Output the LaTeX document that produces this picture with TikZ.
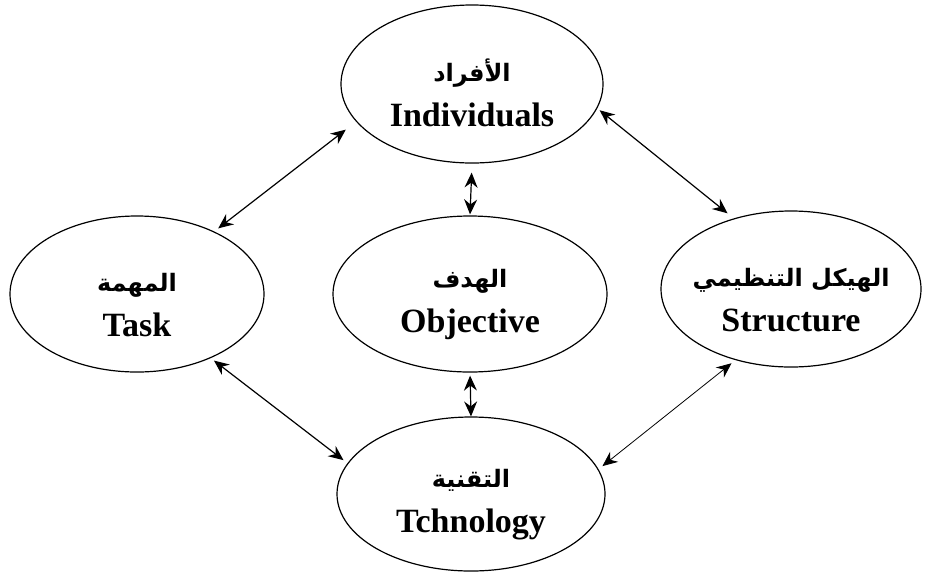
\documentclass[tikz,border=0pt]{standalone}
\usepackage{fontspec}
\setmainfont{Liberation Serif}
\newfontfamily\arabicfont[Script=Arabic]{DejaVu Sans}
\TeXXeTstate=1
\usetikzlibrary{shapes.geometric,arrows.meta}
\newcommand{\arlabel}[1]{\rule{0pt}{40pt}\makebox[0pt]{\arabicfont\bfseries\fontsize{24}{30}\selectfont\beginR #1\endR}}

\begin{document}
\begin{tikzpicture}[x=1pt,y=-1pt,
    font=\fontsize{34}{45}\selectfont\bfseries,
    >={Stealth[length=15pt,width=13pt,inset=5pt]},
    part/.style={ellipse, draw, line width=1.2pt, inner sep=0pt, align=center},
    link/.style={<->, line width=1.2pt}]
  \useasboundingbox (0,0) rectangle (925,574);
  %nodes
  \node[part, minimum width=262pt, minimum height=158pt] (indiv) at (472,84) {\arlabel{الأفراد}\\Individuals};
  \node[part, minimum width=274pt, minimum height=156pt] (obj) at (470,294) {\arlabel{الهدف}\\Objective};
  \node[part, minimum width=254pt, minimum height=156pt] (task) at (137,294) {\arlabel{المهمة}\\Task};
  \node[part, minimum width=260pt, minimum height=156pt] (struct) at (791,289) {\arlabel{الهيكل التنظيمي}\\Structure};
  \node[part, minimum width=268pt, minimum height=154pt] (tech) at (471,494) {\arlabel{التقنية}\\Tchnology};
  %edges
  \draw[link, shorten <=5pt, shorten >=13pt] (task.39.5) -- (indiv.198.3);
  \draw[link, shorten <=3pt, shorten >=8pt] (indiv.349) -- (struct.129.7);
  \draw[link, shorten <=9pt, shorten >=1pt] (indiv.south) -- (obj.north);
  \draw[link, shorten <=3pt, shorten >=0pt] (obj.south) -- (tech.north);
  \draw[link, shorten <=4pt, shorten >=5pt] (task.319.8) -- (tech.166.5);
  \draw[link, line width=0.8pt, shorten <=5pt, shorten >=5pt] (struct.232.3) -- (tech.11.1);
\end{tikzpicture}
\end{document}
